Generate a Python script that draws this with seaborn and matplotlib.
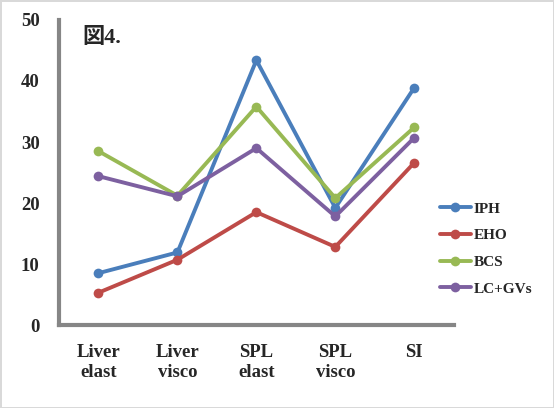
import numpy as np
import pandas as pd
import matplotlib
matplotlib.use("Agg")
import matplotlib.pyplot as plt
import seaborn as sns
from matplotlib.ticker import FixedLocator, NullFormatter

categories = ["Liver\nelast", "Liver\nvisco", "SPL\nelast", "SPL\nvisco", "SI"]
series_names = ["IPH", "EHO", "BCS", "LC+GVs"]
iph = [8.5, 11.9, 43.4, 19.2, 38.9]
eho = [5.3, 10.7, 18.5, 12.8, 26.6]
bcs = [28.5, 21.2, 35.8, 20.8, 32.4]
lcgv = [24.4, 21.1, 29.0, 17.8, 30.7]
colors = ["#4A7EBB", "#BE4B48", "#98B954", "#7D60A0"]

rows = []
for name, vals in zip(series_names, [iph, eho, bcs, lcgv]):
    for c, v in zip(categories, vals):
        rows.append({"cat": c, "val": v, "series": name})
df = pd.DataFrame(rows)

sns.set_style("white")
plt.rcParams["font.family"] = ["Liberation Serif", "Noto Sans CJK JP"]
plt.rcParams["font.weight"] = "bold"

fig = plt.figure(figsize=(5.54, 4.08), dpi=100, facecolor="white")
fig.patch.set_edgecolor("#D9D9D9")
fig.patch.set_linewidth(2)
ax = fig.add_axes([0.1065, 0.2034, 0.7125, 0.7476])
ax.set_facecolor("white")

sns.lineplot(data=df, x="cat", y="val", hue="series", palette=colors,
             marker="o", markersize=7, markeredgewidth=0, linewidth=2.8,
             sort=False, ax=ax)

ax.set_xlim(-0.5, 4.5)
ax.set_ylim(0, 50)
ax.set_yticks([0, 10, 20, 30, 40, 50])
ax.set_xlabel("")
ax.set_ylabel("")

ax.xaxis.set_major_locator(FixedLocator(np.arange(-0.5, 5.0, 1.0)))
ax.xaxis.set_major_formatter(NullFormatter())
ax.xaxis.set_minor_locator(FixedLocator(np.arange(0, 5)))
ax.set_xticklabels(categories, minor=True)
ax.tick_params(axis="x", which="major", direction="inout", length=11, width=3, color="#868686")
ax.tick_params(axis="x", which="minor", length=0, pad=14, labelsize=13.5)
ax.tick_params(axis="y", which="major", direction="out", length=4, width=3, color="#868686", labelsize=13.5, pad=10)
for lbl in ax.get_xticklabels(minor=True) + ax.get_yticklabels():
    lbl.set_fontweight("bold")

for s in ["top", "right"]:
    ax.spines[s].set_visible(False)
for s in ["left", "bottom"]:
    ax.spines[s].set_color("#868686")
    ax.spines[s].set_linewidth(3)

ax.text(0.06, 0.975, "図4.", transform=ax.transAxes, fontsize=16, fontweight="bold",
        va="top", ha="left")

leg = ax.legend(loc="upper left", bbox_to_anchor=(440 / 554, 1 - 202 / 408),
                bbox_transform=fig.transFigure, frameon=False,
                handlelength=2.0, handletextpad=0.2, labelspacing=0.85,
                borderaxespad=0, borderpad=0,
                prop={"weight": "bold", "size": 11})

fig.savefig("out.png", dpi=100, facecolor="white", edgecolor=fig.get_edgecolor())
